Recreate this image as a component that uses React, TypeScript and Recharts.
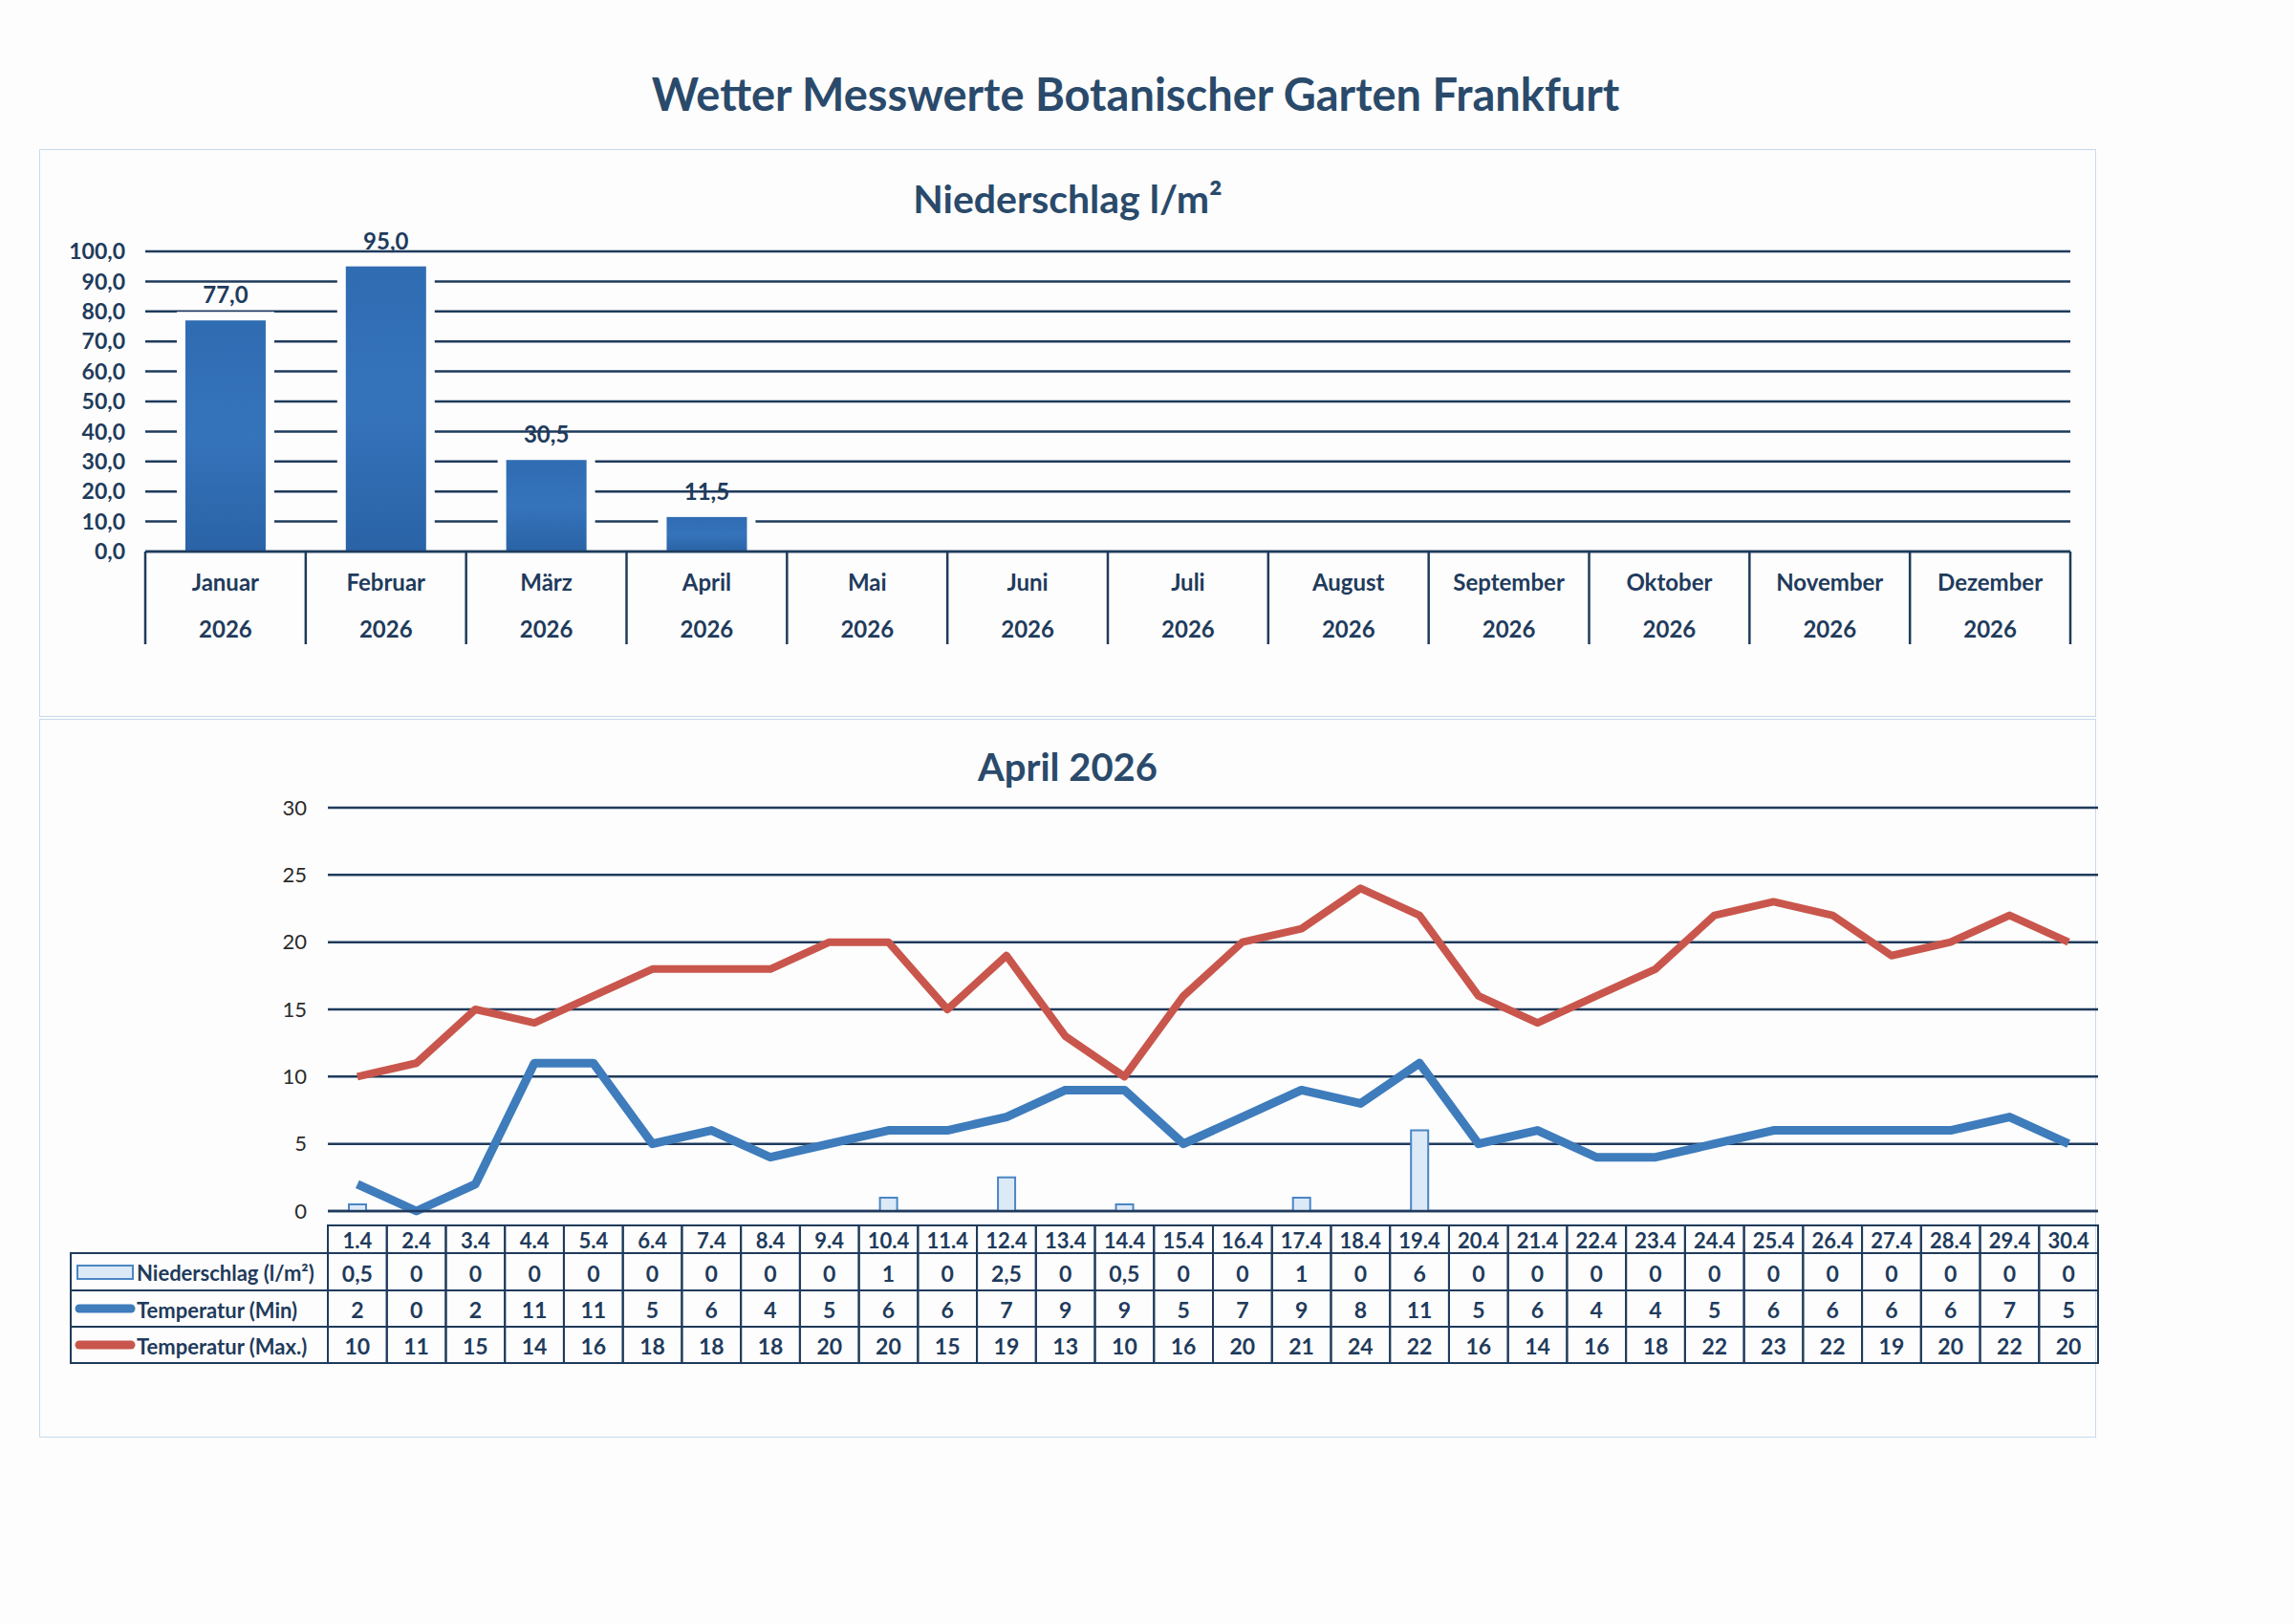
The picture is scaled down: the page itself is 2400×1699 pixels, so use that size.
import React from 'react';
import { BarChart, Bar, XAxis, YAxis, CartesianGrid, LabelList, ComposedChart, Line } from 'recharts';

// --- Monatsübersicht Niederschlag ---
const months = ['Januar', 'Februar', 'März', 'April', 'Mai', 'Juni', 'Juli', 'August', 'September', 'Oktober', 'November', 'Dezember'];
const years = ['2026', '2026', '2026', '2026', '2026', '2026', '2026', '2026', '2026', '2026', '2026', '2026'];
const monthlyRain: (number | null)[] = [77.0, 95.0, 30.5, 11.5, null, null, null, null, null, null, null, null];
const rainTicks = [0, 10, 20, 30, 40, 50, 60, 70, 80, 90, 100];

// --- April 2026 ---
const days = ['1.4', '2.4', '3.4', '4.4', '5.4', '6.4', '7.4', '8.4', '9.4', '10.4', '11.4', '12.4', '13.4', '14.4', '15.4',
    '16.4', '17.4', '18.4', '19.4', '20.4', '21.4', '22.4', '23.4', '24.4', '25.4', '26.4', '27.4', '28.4', '29.4', '30.4'];
const dailyRain = [0.5, 0, 0, 0, 0, 0, 0, 0, 0, 1, 0, 2.5, 0, 0.5, 0, 0, 1, 0, 6, 0, 0, 0, 0, 0, 0, 0, 0, 0, 0, 0];
const tempMin = [2, 0, 2, 11, 11, 5, 6, 4, 5, 6, 6, 7, 9, 9, 5, 7, 9, 8, 11, 5, 6, 4, 4, 5, 6, 6, 6, 6, 7, 5];
const tempMax = [10, 11, 15, 14, 16, 18, 18, 18, 20, 20, 15, 19, 13, 10, 16, 20, 21, 24, 22, 16, 14, 16, 18, 22, 23, 22, 19, 20, 22, 20];
const tempTicks = [0, 5, 10, 15, 20, 25, 30];

const seriesNames = ['Niederschlag (l/m²)', 'Temperatur (Min)', 'Temperatur (Max.)'];

const NAVY = '#1f3b5c';
const TITLE = '#2a4a6b';
const BLUE = '#3e7cbc';
const RED = '#c9564c';
const BG = '#fdfdfd';
const FONT = 'Lato, "Open Sans", sans-serif';

const comma = (v: number) => String(v).replace('.', ',');

const monthData = months.map((m, i) => ({ month: m, rain: monthlyRain[i] }));
const dayData = days.map((d, i) => ({ day: d, rain: dailyRain[i], min: tempMin[i], max: tempMax[i] }));

// chart 1 geometry
const C1_W = 2152;
const C1_H = 594;
const C1_MARGIN = { top: 107, right: 27, bottom: 63, left: 31 };
const C1_YW = 80;
const BAND1 = (C1_W - C1_MARGIN.left - C1_MARGIN.right - C1_YW) / months.length;

// chart 2 geometry
const C2_W = 2160;
const C2_H = 755;
const C2_MARGIN = { top: 95, right: 6, bottom: 38, left: 222 };
const C2_YW = 80;
const BAND2 = (C2_W - C2_MARGIN.left - C2_MARGIN.right - C2_YW) / days.length;

// bar with a white halo so the grid lines stop short of it
const HaloBar = (props: any) => {
    const { x, y, width, height, index } = props;
    if (!height) return null;
    const id = `barFill${index}`;
    return (
        <g>
            <defs>
                <linearGradient id={id} x1="0" y1="0" x2="0" y2="1">
                    <stop offset="0%" stopColor="#2f6cb2" />
                    <stop offset="50%" stopColor="#3573bb" />
                    <stop offset="100%" stopColor="#2a63a6" />
                </linearGradient>
            </defs>
            <rect x={x - 9} y={y - 9} width={width + 18} height={height + 7} fill={BG} />
            <rect x={x} y={y} width={width} height={height} fill={`url(#${id})`} />
        </g>
    );
};

const MonthTick = (props: any) => {
    const { x, y, index, payload } = props;
    const half = BAND1 / 2;
    const last = index === months.length - 1;
    return (
        <g>
            <line x1={x - half} y1={y} x2={x - half} y2={y + 97} stroke={NAVY} strokeWidth={2.5} />
            {last && <line x1={x + half} y1={y} x2={x + half} y2={y + 97} stroke={NAVY} strokeWidth={2.5} />}
            <text x={x} y={y + 31} textAnchor="middle" dominantBaseline="central" fill={NAVY}
                fontFamily={FONT} fontWeight={700} fontSize={24}>{payload.value}</text>
            <text x={x} y={y + 80} textAnchor="middle" dominantBaseline="central" fill={NAVY}
                fontFamily={FONT} fontWeight={700} fontSize={24}>{years[index]}</text>
        </g>
    );
};

// table rows under the April chart (relative to axis y)
const ROWS = [
    { top: 15, bottom: 44 },
    { top: 44, bottom: 83 },
    { top: 83, bottom: 121 },
    { top: 121, bottom: 159 },
];

const TableTick = (props: any) => {
    const { x, y, index, payload } = props;
    const half = BAND2 / 2;
    const left = x - half;
    const values = [comma(dailyRain[index]), String(tempMin[index]), String(tempMax[index])];
    const cellText = (txt: string, r: number, size: number) => (
        <text x={x} y={y + (ROWS[r].top + ROWS[r].bottom) / 2 + 1} textAnchor="middle" dominantBaseline="central"
            fill={NAVY} fontFamily={FONT} fontWeight={700} fontSize={size}>{txt}</text>
    );
    return (
        <g>
            <rect x={left} y={y + ROWS[0].top} width={BAND2} height={ROWS[3].bottom - ROWS[0].top}
                fill="none" stroke={NAVY} strokeWidth={2} />
            {ROWS.slice(1).map((r, i) => (
                <line key={i} x1={left} x2={left + BAND2} y1={y + r.top} y2={y + r.top} stroke={NAVY} strokeWidth={2} />
            ))}
            {cellText(payload.value, 0, 22)}
            {values.map((v, i) => <React.Fragment key={i}>{cellText(v, i + 1, 23)}</React.Fragment>)}
            {index === 0 && (
                <g>
                    <rect x={left - 269} y={y + ROWS[1].top} width={269} height={ROWS[3].bottom - ROWS[1].top}
                        fill="none" stroke={NAVY} strokeWidth={2} />
                    <line x1={left - 269} x2={left} y1={y + ROWS[2].top} y2={y + ROWS[2].top} stroke={NAVY} strokeWidth={2} />
                    <line x1={left - 269} x2={left} y1={y + ROWS[3].top} y2={y + ROWS[3].top} stroke={NAVY} strokeWidth={2} />
                    <rect x={left - 262} y={y + 57} width={58} height={14} fill="#dce9f7" stroke="#4a86c5" strokeWidth={2} />
                    <line x1={left - 260} x2={left - 206} y1={y + 102} y2={y + 102} stroke={BLUE} strokeWidth={9} strokeLinecap="round" />
                    <line x1={left - 260} x2={left - 206} y1={y + 140} y2={y + 140} stroke={RED} strokeWidth={9} strokeLinecap="round" />
                    {seriesNames.map((s, i) => (
                        <text key={s} x={left - 200} y={y + (ROWS[i + 1].top + ROWS[i + 1].bottom) / 2 + 1}
                            dominantBaseline="central" fill={NAVY} fontFamily={FONT} fontWeight={700} fontSize={22}>{s}</text>
                    ))}
                </g>
            )}
        </g>
    );
};

const boxStyle: React.CSSProperties = {
    position: 'absolute',
    border: '1.5px solid #c7d9ec',
    boxSizing: 'border-box',
};

export default function App() {
    return (
        <div style={{ position: 'absolute', left: 0, top: 0, width: 2400, height: 1699, background: BG, fontFamily: FONT }}>
            <div style={{ position: 'absolute', left: 0, width: 2376, top: 70, textAlign: 'center', color: TITLE,
                fontSize: 47, fontWeight: 700 }}>
                Wetter Messwerte Botanischer Garten Frankfurt
            </div>

            <div style={{ ...boxStyle, left: 41, top: 156, width: 2152, height: 594 }} />
            <div style={{ position: 'absolute', left: 41, width: 2152, top: 183, textAlign: 'center', color: TITLE,
                fontSize: 41, fontWeight: 700 }}>
                Niederschlag l/m²
            </div>
            <div style={{ position: 'absolute', left: 41, top: 156 }}>
                <BarChart width={C1_W} height={C1_H} data={monthData} margin={C1_MARGIN} barCategoryGap="25%">
                    <CartesianGrid vertical={false} stroke={NAVY} strokeWidth={2.5} />
                    <XAxis dataKey="month" interval={0} tickSize={0} tickMargin={0} height={110}
                        axisLine={{ stroke: NAVY, strokeWidth: 2.5 }} tick={<MonthTick />} />
                    <YAxis domain={[0, 100]} ticks={rainTicks} interval={0} width={C1_YW} axisLine={false} tickLine={false}
                        tickSize={6} tickMargin={15} tickFormatter={(v: number) => v.toFixed(1).replace('.', ',')}
                        tick={{ fill: NAVY, fontFamily: FONT, fontWeight: 700, fontSize: 23 }} />
                    <Bar dataKey="rain" shape={<HaloBar />} isAnimationActive={false}>
                        <LabelList dataKey="rain" position="top" offset={18}
                            formatter={(v: any) => (v == null ? '' : Number(v).toFixed(1).replace('.', ','))}
                            style={{ fill: NAVY, fontFamily: FONT, fontWeight: 700, fontSize: 24 }} />
                    </Bar>
                </BarChart>
            </div>

            <div style={{ ...boxStyle, left: 41, top: 752, width: 2152, height: 752 }} />
            <div style={{ position: 'absolute', left: 41, width: 2152, top: 778, textAlign: 'center', color: TITLE,
                fontSize: 40, fontWeight: 700 }}>
                April 2026
            </div>
            <div style={{ position: 'absolute', left: 41, top: 750 }}>
                <ComposedChart width={C2_W} height={C2_H} data={dayData} margin={C2_MARGIN}>
                    <CartesianGrid vertical={false} stroke={NAVY} strokeWidth={2.5} />
                    <XAxis dataKey="day" interval={0} tickSize={0} tickMargin={0} height={200}
                        axisLine={{ stroke: NAVY, strokeWidth: 2.5 }} tick={<TableTick />} />
                    <YAxis domain={[0, 30]} ticks={tempTicks} interval={0} width={C2_YW} axisLine={false} tickLine={false}
                        tickSize={6} tickMargin={16}
                        tick={{ fill: '#2b2b2b', fontFamily: FONT, fontSize: 22 }} />
                    <Bar dataKey="rain" barSize={18} fill="#dce9f7" stroke="#4a86c5" strokeWidth={2}
                        isAnimationActive={false} />
                    <Line type="linear" dataKey="min" stroke={BLUE} strokeWidth={9} dot={false}
                        strokeLinejoin="round" isAnimationActive={false} />
                    <Line type="linear" dataKey="max" stroke={RED} strokeWidth={8} dot={false}
                        strokeLinejoin="round" isAnimationActive={false} />
                </ComposedChart>
            </div>
        </div>
    );
}
